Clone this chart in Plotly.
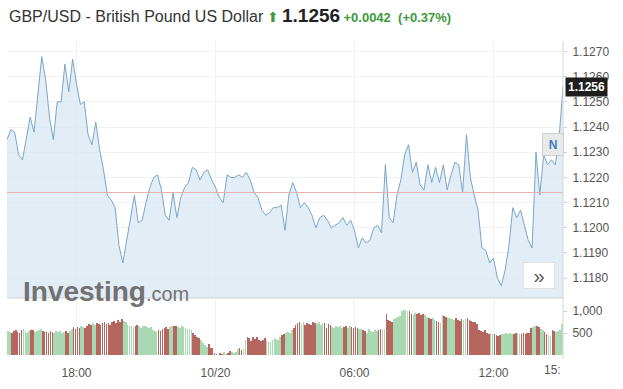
import pandas as pd
import plotly.graph_objects as go

# ---------------- data ----------------
price_start = "2022-10-19 15:00"
# GBP/USD, 10-minute closes (15:00 -> 15:00 next day)
price = [
    1.1235, 1.1239, 1.1238, 1.1229, 1.1227, 1.1236, 1.1244, 1.1238, 1.1254, 1.1268,
    1.1259, 1.1244, 1.1235, 1.1250, 1.1250, 1.1265, 1.1254, 1.1267, 1.1257, 1.1249,
    1.1250, 1.1237, 1.1233, 1.1242, 1.1231, 1.1223, 1.1213, 1.1211, 1.1208, 1.1193,
    1.1186, 1.1195, 1.1205, 1.1213, 1.1202, 1.1203, 1.1210, 1.1216, 1.1220, 1.1221,
    1.1215, 1.1205, 1.1203, 1.1214, 1.1204, 1.1212, 1.1216, 1.1218, 1.1224, 1.1223,
    1.1219, 1.1222, 1.1223, 1.1219, 1.1216, 1.1212, 1.1210, 1.1221, 1.1220, 1.1220,
    1.1221, 1.1220, 1.1222, 1.1219, 1.1214, 1.1212, 1.1207, 1.1205, 1.1206, 1.1208,
    1.1208, 1.1209, 1.1199, 1.1213, 1.1218, 1.1214, 1.1208, 1.1210, 1.1208, 1.1205,
    1.1200, 1.1204, 1.1205, 1.1203, 1.1200, 1.1201, 1.1202, 1.1204, 1.1201, 1.1203,
    1.1199, 1.1192, 1.1196, 1.1194, 1.1195, 1.1200, 1.1201, 1.1198, 1.1225, 1.1204,
    1.1202, 1.1213, 1.1219, 1.1229, 1.1233, 1.1222, 1.1226, 1.1217, 1.1215, 1.1225,
    1.1218, 1.1224, 1.1218, 1.1225, 1.1215, 1.1221, 1.1226, 1.1225, 1.1214, 1.1237,
    1.1220, 1.1213, 1.1207, 1.1192, 1.1191, 1.1186, 1.1188, 1.1180, 1.1177, 1.1183,
    1.1193, 1.1208, 1.1204, 1.1207, 1.1201, 1.1195, 1.1192, 1.1230, 1.1213, 1.1229,
    1.1225, 1.1227, 1.1225, 1.1236, 1.1256,
]
prev_close = 1.1214
last_price = 1.1256
change = 0.0042
change_pct = 0.37

# 5-minute volume bars
volume = (
    [540, 520, 490, 550, 560, 530, 500, 560, 580, 540, 510, 550, 570, 560, 520, 540, 560, 580]
    + [550, 520, 530, 500, 540, 530, 500, 540, 520, 550, 500, 530, 550, 510, 540]
    + [600, 630, 590, 640, 620, 650, 640, 610]
    + [660, 700, 680, 720, 690, 730, 700, 680, 720, 740, 700, 720, 690]
    + [740, 770, 730, 790, 760, 810, 780, 750]
    + [680, 660, 670, 630, 660, 690, 650, 620, 660, 670, 640, 610, 630]
    + [560, 540, 520, 570, 550]
    + [600, 620, 640, 590, 630, 670, 650, 660, 640, 620, 660, 640, 620, 600, 580, 560]
    + [500, 450, 400, 380, 340]
    + [280, 230, 190, 250, 170, 150]
    + [40, 20, 0, 30, 10, 60, 20]
    + [40, 80, 60, 30, 70]
    + [130, 160, 110, 140]
    + [340, 400, 380, 310, 420, 360, 400, 330, 310]
    + [330, 380, 350, 300, 290, 340, 390, 360, 330, 400]
    + [450, 480, 500, 520, 490]
    + [560, 620, 680, 720]
    + [740, 700, 760, 690, 730, 710, 680, 750, 720, 700, 740, 690, 720, 730, 620, 700, 680]
    + [640, 620, 660, 630, 650, 610, 640, 660, 620, 650, 630, 610, 640, 620, 600, 580]
    + [560, 540, 500, 580, 550, 520, 570, 540, 560, 580]
    + [560, 600, 930]
    + [800, 780, 760, 820, 840, 860, 880]
    + [1000, 1020, 1030, 1010, 990]
    + [940, 920, 950, 930, 960, 920, 940, 900]
    + [860, 840, 820, 850, 800, 780, 740, 720]
    + [900, 880, 870, 850, 840]
    + [820, 800, 830, 790, 780, 810, 800, 820, 840, 800, 780]
    + [760, 740, 700]
    + [560, 540, 520, 560, 500, 480, 500, 470]
    + [470, 450, 440, 460, 480]
    + [480, 500, 470, 490, 480, 470, 500, 490, 480, 470, 490, 480, 500, 510]
    + [620, 640, 650, 660, 640, 600]
    + [560, 520, 480, 450, 430, 560]
    + [540, 520, 550, 560, 700]
)

price_ticks = [1.1180, 1.1190, 1.1200, 1.1210, 1.1220, 1.1230, 1.1240, 1.1250, 1.1260, 1.1270]
volume_ticks = [500, 1000]
time_tick_vals = ["2022-10-19 18:00", "2022-10-20 00:00", "2022-10-20 06:00", "2022-10-20 12:00"]
time_tick_text = ["18:00", "10/20", "06:00", "12:00"]

# ---------------- figure ----------------
W, H = 623, 389
px = lambda v: v / W
py = lambda v: 1 - v / H

t_price = pd.date_range(price_start, periods=len(price), freq="10min")
t_vol = pd.date_range(price_start, periods=len(volume), freq="5min") + pd.Timedelta(minutes=2.5)
x_range = [t_price[0], t_price[0] + pd.Timedelta(hours=24)]

GREEN_BAR = "#a9d9b3"
RED_BAR = "#b5665e"
vol_colors = []
for j in range(len(volume)):
    i = min(j // 2, len(price) - 2)
    vol_colors.append(GREEN_BAR if price[i + 1] >= price[i] else RED_BAR)

fig = go.Figure()
fig.add_trace(go.Scatter(
    x=t_price, y=price, mode="lines",
    line=dict(color="#7aa6c9", width=1),
    fill="tozeroy", fillcolor="rgba(220,232,244,0.8)",
    hoverinfo="skip", xaxis="x", yaxis="y",
))
fig.add_trace(go.Bar(
    x=t_vol, y=volume, marker=dict(color=vol_colors, line=dict(width=0)),
    width=105000, xaxis="x2", yaxis="y2", hoverinfo="skip",
))

FONT = "Liberation Sans, Arial, sans-serif"
TICK_COL = "#555555"
GRID = "#f1f1f1"

fig.update_layout(
    width=W, height=H, margin=dict(l=0, r=0, t=0, b=0),
    paper_bgcolor="white", plot_bgcolor="white", showlegend=False,
    font=dict(family=FONT, size=12, color=TICK_COL),
    xaxis=dict(domain=[px(7), px(563)], range=x_range, type="date",
               anchor="y", showticklabels=False, tickvals=time_tick_vals,
               showgrid=True, gridcolor=GRID, zeroline=False, showline=False),
    yaxis=dict(domain=[py(298), py(41)], range=[1.11721, 1.12742], side="right",
               anchor="x", tickvals=price_ticks, tickformat=".4f",
               showgrid=True, gridcolor=GRID, zeroline=False,
               ticks="outside", ticklen=3, tickcolor="#cccccc",
               ticklabelstandoff=3, tickfont=dict(size=12, color=TICK_COL)),
    xaxis2=dict(domain=[px(7), px(563)], range=x_range, type="date",
                anchor="y2", tickvals=time_tick_vals, ticktext=time_tick_text,
                showgrid=True, gridcolor=GRID, zeroline=False, showline=False,
                ticks="", ticklabelstandoff=9, tickfont=dict(size=12, color=TICK_COL)),
    yaxis2=dict(domain=[py(355), py(300)], range=[0, 1250], side="right",
                anchor="x2", tickvals=volume_ticks, tickformat=",d",
                showgrid=False, zeroline=False, ticks="outside", ticklen=3,
                tickcolor="#cccccc", ticklabelstandoff=3,
                tickfont=dict(size=12, color=TICK_COL)),
    bargap=0,
)

shapes = [
    # previous close line
    dict(type="line", xref="x", yref="y", x0=x_range[0], x1=x_range[1],
         y0=prev_close, y1=prev_close, line=dict(color="#eab0b0", width=1)),
    # bottom border of price pane
    dict(type="line", xref="paper", yref="paper", x0=px(7), x1=px(563),
         y0=py(298), y1=py(298), line=dict(color="#cfcfcf", width=1)),
    # right border
    dict(type="line", xref="paper", yref="paper", x0=px(563), x1=px(563),
         y0=py(359), y1=py(41), line=dict(color="#d6d6d6", width=1)),
]
fig.update_layout(shapes=shapes)

GREEN_TXT = "#3c9a3c"
annotations = [
    dict(xref="paper", yref="paper", x=px(7), y=py(16), xanchor="left", yanchor="middle",
         showarrow=False,
         text=("<span style='font-size:16px;color:#333'>GBP/USD - British Pound US Dollar</span> "
               f"<span style='font-size:14px;color:{GREEN_TXT}'>⬆</span> "
               f"<b><span style='font-size:19px;color:#222'>{last_price:.4f}</span></b> "
               f"<b><span style='font-size:13px;color:{GREEN_TXT}'>+{change:.4f}  (+{change_pct:.2f}%)</span></b>"),
         font=dict(family=FONT)),
    # last price label
    dict(xref="paper", yref="y", x=px(565), y=last_price, xanchor="left", yanchor="middle",
         showarrow=False, text=f"<b>{last_price:.4f}</b>", bgcolor="#1e1e1e",
         font=dict(family=FONT, size=12, color="white"), borderpad=2),
    # clipped last time label
    dict(xref="paper", yref="paper", x=px(563), y=py(370), xanchor="right", yanchor="middle",
         showarrow=False, text="15:", font=dict(family=FONT, size=12, color=TICK_COL)),
    # watermark
    dict(xref="paper", yref="paper", x=px(21), y=py(291), xanchor="left", yanchor="middle",
         showarrow=False,
         text="<b><span style='font-size:28px'>Investing</span></b><span style='font-size:20px'>.com</span>",
         font=dict(family=FONT, color="#727272")),
    # N marker
    dict(xref="paper", yref="paper", x=px(553), y=py(144), xanchor="center", yanchor="middle",
         showarrow=False, text="<b>N</b>", bgcolor="#e9e9e9", bordercolor="#cfcfcf",
         borderwidth=1, width=18, height=19,
         font=dict(family=FONT, size=12, color="#3f7fc0")),
    # scroll button
    dict(xref="paper", yref="paper", x=px(539), y=py(275), xanchor="center", yanchor="middle",
         showarrow=False, text="»", bgcolor="#ffffff", bordercolor="#e2e2e2",
         borderwidth=1, width=28, height=23,
         font=dict(family=FONT, size=20, color="#555")),
]
fig.update_layout(annotations=annotations)

fig.write_html("out.html", include_plotlyjs=True, config={"displayModeBar": False})
